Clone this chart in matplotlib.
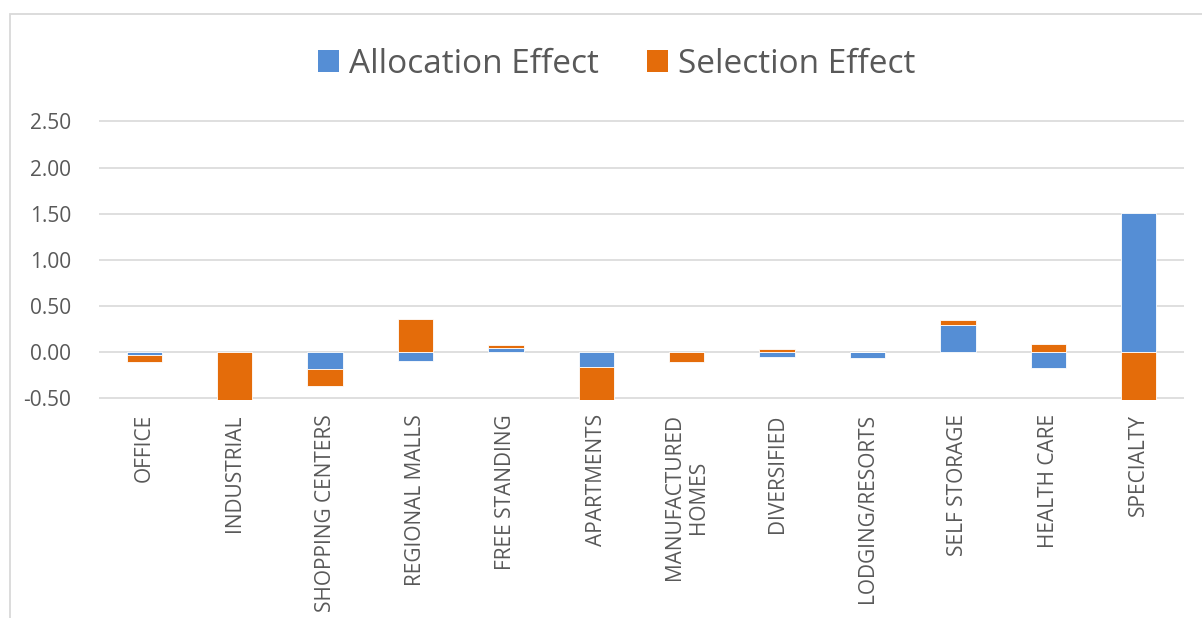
import matplotlib
matplotlib.use("Agg")
import matplotlib.pyplot as plt
from matplotlib.patches import Rectangle, Patch
import numpy as np

plt.rcParams['font.family'] = ['Open Sans', 'DejaVu Sans']

# Data
categories = ['OFFICE', 'INDUSTRIAL', 'SHOPPING CENTERS', 'REGIONAL MALLS',
              'FREE STANDING', 'APARTMENTS', 'MANUFACTURED\nHOMES', 'DIVERSIFIED',
              'LODGING/RESORTS', 'SELF STORAGE', 'HEALTH CARE', 'SPECIALTY']
allocation = [-0.03, 0.00, -0.18, -0.09, 0.05, -0.16, 0.00, -0.05, -0.06, 0.30, -0.165, 1.51]
selection = [-0.07, -0.62, -0.18, 0.36, 0.025, -0.45, -0.10, 0.035, 0.00, 0.05, 0.09, -0.70]
series_names = ['Allocation Effect', 'Selection Effect']
yticks = [-0.5, 0.0, 0.5, 1.0, 1.5, 2.0, 2.5]

colors = ['#558ED5', '#E46C0A']
text_col = '#595959'
grid_col = '#D9D9D9'

W, H = 1202, 618
fig = plt.figure(figsize=(W / 100, H / 100), dpi=100)

# axes placement (pixels -> figure fraction)
left_px, right_px = 99, 1184
top_px, bot_px = 119.5, 400.3
ax = fig.add_axes([left_px / W, 1 - bot_px / H, (right_px - left_px) / W, (bot_px - top_px) / H])

x = np.arange(len(categories))
pos_cum = np.zeros(len(x))
neg_cum = np.zeros(len(x))
for vals, name, col in zip([allocation, selection], series_names, colors):
    vals = np.array(vals)
    bottoms = np.where(vals >= 0, pos_cum, neg_cum)
    ax.bar(x, vals, width=0.39, bottom=bottoms, color=col, edgecolor='white',
           linewidth=0.6, zorder=3, label=name)
    pos_cum = pos_cum + np.where(vals >= 0, vals, 0)
    neg_cum = neg_cum + np.where(vals < 0, vals, 0)

ax.set_xlim(-0.5, len(x) - 0.5)
ax.set_ylim(-0.52, 2.52)
ax.set_yticks(yticks)
ax.set_yticklabels(['%.2f' % t for t in yticks])
ax.yaxis.grid(True, color=grid_col, linewidth=1.2, zorder=0)
ax.set_xticks(x)
ax.set_xticklabels(categories, rotation=90, multialignment='center')
ax.tick_params(axis='both', length=0, labelsize=15, labelcolor=text_col)
ax.tick_params(axis='y', pad=20)
ax.tick_params(axis='x', pad=10)
for s in ax.spines.values():
    s.set_visible(False)

handles = [Patch(facecolor=c, edgecolor='none') for c in colors]
fig.legend(handles, series_names, loc='center', bbox_to_anchor=(0.513, 0.896),
           ncol=2, frameon=False, fontsize=24, handlelength=0.63, handleheight=0.63,
           handletextpad=0.3, columnspacing=1.45, labelcolor=text_col)

# chart border (only left and top edges fall inside the image)
fig.add_artist(Rectangle((10.5 / W, -0.1), 1.2, 1 - 14 / H + 0.1, transform=fig.transFigure,
                         fill=False, edgecolor=grid_col, linewidth=1.3))

fig.savefig('out.png', dpi=100, facecolor='white')
